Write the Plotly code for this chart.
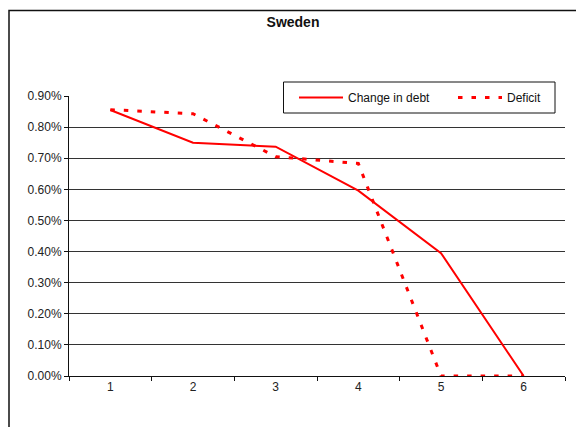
import plotly.graph_objects as go

periods = ["1", "2", "3", "4", "5", "6"]
change_in_debt = [0.00855, 0.0075, 0.00737, 0.00596, 0.00395, 0.0]
deficit = [0.00856, 0.00843, 0.00705, 0.00683, 0.0, 0.0]
y_ticks = [0.0, 0.001, 0.002, 0.003, 0.004, 0.005, 0.006, 0.007, 0.008, 0.009]

# page body has an 8px margin; work in page pixels and convert
OFF = 8
W, H = 584 - OFF, 427 - OFF
L, R, T, B = 69 - OFF, 19, 96 - OFF, 51
pw, ph = W - L - R, H - T - B

def px_x(p):
    return (p - OFF - L) / pw

def px_y(p):
    return (H - B - (p - OFF)) / ph

FONT = "Liberation Sans, Arial, sans-serif"

fig = go.Figure()
fig.add_trace(go.Scatter(x=periods, y=change_in_debt, name="Change in debt",
                         mode="lines", line=dict(color="#ff0000", width=2),
                         legend="legend"))
fig.add_trace(go.Scatter(x=periods, y=deficit, name="Deficit",
                         mode="lines", line=dict(color="#ff0000", width=3, dash="4.5px,9px"),
                         legend="legend2"))

leg_common = dict(orientation="v", xanchor="left", yanchor="middle",
                  bgcolor="rgba(0,0,0,0)", borderwidth=0,
                  font=dict(size=12, color="#111"), itemwidth=44)

fig.update_layout(
    width=W, height=H,
    margin=dict(l=L, r=R, t=T, b=B),
    paper_bgcolor="white", plot_bgcolor="white",
    font=dict(family=FONT, size=12, color="#222"),
    title=dict(text="<b>Sweden</b>", x=(293 - OFF) / W, xanchor="center",
               y=1 - (22 - OFF) / H, yanchor="middle",
               font=dict(size=14, color="#111", family=FONT)),
    showlegend=True,
    legend=dict(x=px_x(294), y=px_y(97.5), **leg_common),
    legend2=dict(x=px_x(453), y=px_y(97.5), **leg_common),
    xaxis=dict(type="category", tickson="boundaries", ticks="outside", ticklen=4,
               tickcolor="#111", showline=True, linecolor="#111", linewidth=1,
               showgrid=False, zeroline=False, range=[-0.5, 5.5],
               tickfont=dict(size=12, color="#222"), fixedrange=True),
    yaxis=dict(range=[0, 0.009], tickvals=y_ticks, tickformat=".2%", ticks="outside",
               ticklen=4, tickcolor="#111", showline=True, linecolor="#111", linewidth=1,
               showgrid=True, gridcolor="#333", gridwidth=1, zeroline=False,
               tickfont=dict(size=12, color="#222")),
    shapes=[
        dict(type="rect", xref="paper", yref="paper",
             x0=px_x(9), x1=px_x(600), y0=px_y(450), y1=px_y(10.5),
             line=dict(color="#111", width=1.5), layer="below"),
        dict(type="rect", xref="paper", yref="paper",
             x0=px_x(283.5), x1=px_x(555), y0=px_y(113), y1=px_y(82),
             line=dict(color="#111", width=1), fillcolor="white", layer="above"),
    ],
)

fig.write_html("out.html")
